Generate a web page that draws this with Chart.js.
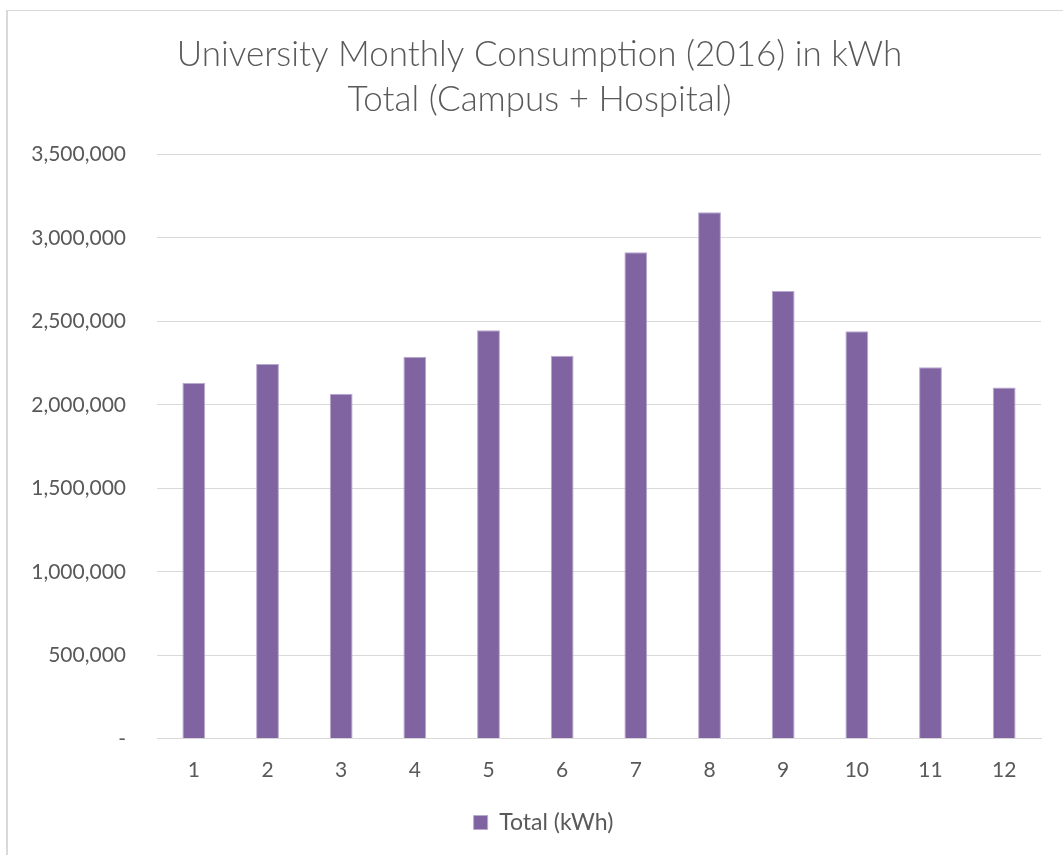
<!DOCTYPE html>
<html>
<head>
<meta charset="utf-8">
<script src="https://cdn.jsdelivr.net/npm/chart.js@4.4.1/dist/chart.umd.min.js"></script>
<style>
	html, body { margin: 0; padding: 0; background: #fff; overflow: hidden; }
	#frame { position: absolute; left: 6px; top: 10px; width: 1070px; height: 860px;
		border-left: 2px solid #d9d9d9; border-top: 1px solid #d9d9d9; }
	#wrap { position: absolute; left: 0; top: 0; width: 1063px; height: 855px; }
</style>
</head>
<body>
<div id="frame"></div>
<div id="wrap"><canvas id="barc"></canvas></div>
<script>
// Data

var months = ["1", "2", "3", "4", "5", "6", "7", "8", "9", "10", "11", "12"];
var totalKwh = [2130000, 2245000, 2066000, 2287000, 2447000, 2293000, 2913000, 3153000, 2682000, 2441000, 2225000, 2104000];
var titleLines = ["University Monthly Consumption (2016) in kWh", "Total (Campus + Hospital)"];
var seriesName = "Total (kWh)";

// Chart

var txtColor = "#595959";
var gridColor = "#d9d9d9";
var font = "Lato";

// title and legend sit a bit right of the canvas centre, like in Excel
var shiftBoxes = {
	id: "shiftBoxes",
	afterLayout: function(chart) {
		chart.titleBlock.left += 15;
		chart.titleBlock.right += 15;
		chart.legend.left += 19;
		chart.legend.right += 19;
	}
};

new Chart("barc", {
	type: "bar",
	plugins: [shiftBoxes],
	data: {
		labels: months,
		datasets: [{
			label: seriesName,
			data: totalKwh,
			backgroundColor: "#8064a2",
			borderColor: "#b9a8d0",
			borderWidth: 1,
			barPercentage: 0.31,
			categoryPercentage: 1.0
		}]
	},
	options: {
		responsive: true,
		maintainAspectRatio: false,
		animation: false,
		layout: { padding: { left: 8, right: 22, top: 32, bottom: 11 } },
		plugins: {
			title: {
				display: true,
				text: titleLines,
				color: txtColor,
				font: { family: font, size: 35, weight: 300, lineHeight: 1.29 },
				padding: { top: 0, bottom: 32 }
			},
			legend: {
				position: "bottom",
				labels: {
					color: txtColor,
					font: { family: font, size: 23 },
					boxWidth: 14,
					boxHeight: 14,
					padding: 9
				}
			},
			tooltip: { enabled: false }
		},
		scales: {
			x: {
				grid: { display: false, drawTicks: false },
				border: { color: gridColor },
				ticks: { color: txtColor, font: { family: font, size: 21 }, padding: 19 }
			},
			y: {
				min: 0,
				max: 3500000,
				grid: { color: gridColor, drawTicks: false },
				border: { display: false },
				afterFit: function(scale) { scale.width = 149; },
				ticks: {
					stepSize: 500000,
					color: txtColor,
					font: { family: font, size: 21 },
					padding: 31,
					callback: function(v) { return v === 0 ? "-" : v.toLocaleString("en-US"); }
				}
			}
		}
	}
});
</script>
</body>
</html>
